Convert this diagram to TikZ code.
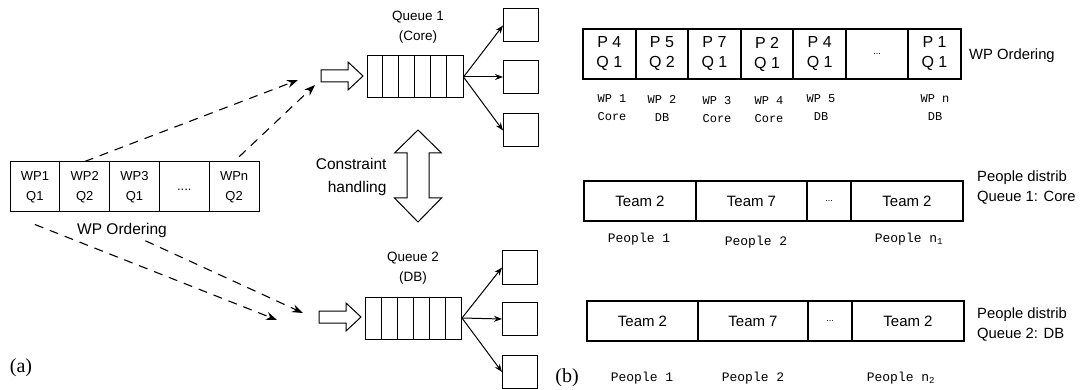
\documentclass[tikz,border=0pt]{standalone}
\usepackage{fontspec}
\setmainfont{Liberation Sans}
\setmonofont{Liberation Mono}
\newfontfamily\capfont{Liberation Serif}
\usetikzlibrary{arrows.meta}

\begin{document}
\begin{tikzpicture}[
		x=1pt, y=-1pt,
		>={Stealth[length=8pt,width=6pt]},
		wpcell/.style={draw, line width=1pt, minimum width=49.8pt, minimum height=50pt, inner sep=0pt, align=center, font=\fontsize{13}{20}\selectfont},
		slot/.style={draw, line width=1pt, minimum width=35pt, minimum height=33pt, inner sep=0pt},
		queue/.style={draw, line width=1pt, minimum width=96pt, minimum height=42pt, inner sep=0pt},
		qlabel/.style={align=center, font=\fontsize{13.5}{20}\selectfont},
		biglabel/.style={align=center, font=\fontsize{15.5}{23}\selectfont},
		hollow/.style={draw, line width=1pt, fill=white},
		dasharrow/.style={->, >={Stealth[length=11pt,width=8pt]}, line width=1.1pt, dash pattern=on 9pt off 7pt},
		ordcell/.style={draw, line width=2pt, minimum height=50pt, inner sep=0pt, align=center, font=\fontsize{16}{20}\selectfont},
		teamcell/.style={draw, line width=2pt, minimum height=40pt, inner sep=0pt, font=\fontsize{15}{20}\selectfont},
		sidelabel/.style={anchor=west, align=left, inner sep=0pt, font=\fontsize{14.8}{20}\selectfont},
		monolabel/.style={align=center, font=\ttfamily\fontsize{12}{18}\selectfont},
		people/.style={font=\ttfamily\fontsize{13}{18}\selectfont},
		panel/.style={font=\capfont\fontsize{20}{24}\selectfont}
	]
		\useasboundingbox (0,0) rectangle (1082,390);
		\def\wpdots{\lower8pt\hbox{....}}
		\def\celldots{\small...}
		\foreach \t [count=\i] in {WP1\\Q1, WP2\\Q2, WP3\\Q1, \wpdots, WPn\\Q2} {
			\node[wpcell] (wp\i) at ({10+49.8*(\i-0.5)}, 187) {\t};
		}
		\node[biglabel] (ordl) at (122,230) {WP Ordering};
		\node[queue] (q1) at (415,77) {};
		\node[queue] (q2) at (413.5,318) {};
		\foreach \i in {1,...,5} {
			\draw[line width=1pt] ([xshift=16*\i pt]q1.north west) -- ([xshift=16*\i pt]q1.south west);
			\draw[line width=1pt] ([xshift=16*\i pt]q2.north west) -- ([xshift=16*\i pt]q2.south west);
		}
		\node[qlabel] (q1l) at (418,27) {Queue 1\\(Core)};
		\node[qlabel] (q2l) at (413,268) {Queue 2\\(DB)};
		\foreach \j/\py in {1/25.5, 2/77, 3/130.5} {
			\node[slot] (s1\j) at (521,\py) {};
			\draw[->, line width=1pt] (q1.east) -- (s1\j.west);
		}
		\foreach \j/\py in {1/267.5, 2/319, 3/372} {
			\node[slot] (s2\j) at (520,\py) {};
			\draw[->, line width=1pt] (q2.east) -- (s2\j.west);
		}
		\coordinate (h1) at (363,76);
		\coordinate (h2) at (361,317);
		\foreach \h in {h1,h2} {
			\draw[hollow] (\h) -- ++(-15,-14) -- ++(0,8) -- ++(-27,0) -- ++(0,12) -- ++(27,0) -- ++(0,8) -- cycle;
		}
		\coordinate (dbl) at (418,130);
		\draw[hollow] (dbl) -- ++(23.5,23) -- ++(-12.5,0) -- ++(0,45) -- ++(12.5,0) -- ++(-23.5,24)
			-- ++(-23.5,-24) -- ++(12.5,0) -- ++(0,-45) -- ++(-12.5,0) -- cycle;
		\node[biglabel, anchor=east, align=right] (cons) at (390,176.5) {Constraint\\handling};
		\coordinate (t1) at (298,80);
		\coordinate (t2) at (315,85);
		\coordinate (t3) at (277,320);
		\coordinate (t4) at (303,313);
		\coordinate (s3) at ([yshift=-12pt]wp1.south);
		\draw[dasharrow] (wp2.north) -- (t1);
		\draw[dasharrow, shorten <=7pt] (wp5.north) -- (t2);
		\draw[dasharrow] (s3) -- (t3);
		\draw[dasharrow] (ordl) -- (t4);
		\node[panel] (pa) at (21,368) {(a)};
		\foreach \x/\w/\t [count=\i] in {609.3/52.6/P 4\\Q 1, 661.9/52.6/P 5\\Q 2, 714.5/52.6/P 7\\Q 1, 767.1/52.6/P 2\\Q 1, 819.7/52.6/P 4\\Q 1, 877/62/\celldots, 934.5/53/P 1\\Q 1} {
			\node[ordcell, minimum width=\w pt] (po\i) at (\x,54) {\t};
		}
		\node[sidelabel] (pol) at (969,56) {WP Ordering};
		\foreach \x/\py/\t [count=\i] in {612/108/WP 1\\Core, 662/108/WP 2\\DB, 717/110/WP 3\\Core, 769/110/WP 4\\Core, 821/107.5/WP 5\\DB, 935/108/WP n\\DB} {
			\node[monolabel] (wpl\i) at (\x,\py) {\t};
		}
		\foreach \x/\w/\t [count=\i] in {640/112/Team 2, 751.5/111/Team 7, 829/44/\celldots, 907/112/Team 2} {
			\node[teamcell, minimum width=\w pt] (ta\i) at (\x,201) {\t};
		}
		\foreach \x/\w/\t [count=\i] in {642.5/111/Team 2, 753/110/Team 7, 830/44/\celldots, 908/112/Team 2} {
			\node[teamcell, minimum width=\w pt] (tb\i) at (\x,321) {\t};
		}
		\node[sidelabel] (tal) at (977,188) {People distrib\\Queue 1: Core};
		\node[sidelabel] (tbl) at (977,325) {People distrib\\Queue 2: DB};
		\node[people] (pa1) at (639,239) {People 1};
		\node[people] (pa2) at (756,242) {People 2};
		\node[people] (pa3) at (909,239) {People n\textsubscript{1}};
		\node[people] (pb1) at (642,378) {People 1};
		\node[people] (pb2) at (753,378) {People 2};
		\node[people] (pb3) at (901,378) {People n\textsubscript{2}};
		\node[panel] (pb) at (567,378) {(b)};
	\end{tikzpicture}
\end{document}
